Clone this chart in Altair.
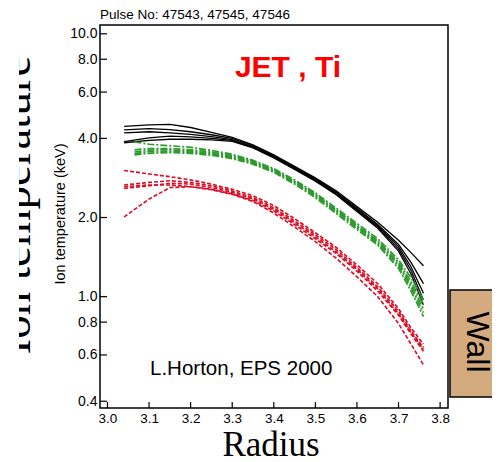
import altair as alt
import pandas as pd

# ---------------- data ----------------
R_BLACK = [3.04, 3.10, 3.15, 3.20, 3.25, 3.30, 3.35, 3.40, 3.45, 3.50, 3.55, 3.60, 3.65, 3.70, 3.73, 3.76]
BLACK = [
    [4.44, 4.50, 4.52, 4.40, 4.22, 4.04, 3.78, 3.46, 3.13, 2.83, 2.53, 2.20, 1.92, 1.64, 1.47, 1.31],
    [4.31, 4.36, 4.32, 4.24, 4.13, 4.00, 3.75, 3.43, 3.11, 2.81, 2.50, 2.17, 1.88, 1.58, 1.35, 1.12],
    [4.20, 4.24, 4.20, 4.14, 4.06, 3.96, 3.72, 3.41, 3.09, 2.79, 2.48, 2.15, 1.86, 1.55, 1.30, 1.03],
    [3.89, 4.02, 4.08, 4.05, 4.00, 3.93, 3.70, 3.39, 3.07, 2.77, 2.46, 2.13, 1.84, 1.52, 1.26, 0.97],
    [3.85, 3.93, 3.97, 3.97, 3.95, 3.90, 3.68, 3.37, 3.05, 2.75, 2.44, 2.11, 1.82, 1.49, 1.22, 0.93],
]
R_GREEN = [3.065, 3.10, 3.15, 3.20, 3.25, 3.30, 3.35, 3.40, 3.45, 3.50, 3.55, 3.60, 3.65, 3.70, 3.73, 3.76]
GREEN = [
    [3.88, 3.80, 3.75, 3.70, 3.60, 3.48, 3.30, 3.07, 2.78, 2.48, 2.17, 1.90, 1.66, 1.38, 1.18, 0.97],
    [3.62, 3.66, 3.66, 3.62, 3.55, 3.44, 3.27, 3.04, 2.75, 2.45, 2.14, 1.87, 1.63, 1.35, 1.14, 0.93],
    [3.55, 3.61, 3.62, 3.58, 3.51, 3.41, 3.25, 3.02, 2.73, 2.43, 2.12, 1.85, 1.61, 1.33, 1.11, 0.90],
    [3.50, 3.56, 3.57, 3.54, 3.48, 3.38, 3.22, 3.00, 2.71, 2.41, 2.10, 1.83, 1.59, 1.31, 1.08, 0.87],
    [3.46, 3.51, 3.53, 3.51, 3.45, 3.35, 3.19, 2.97, 2.68, 2.38, 2.07, 1.80, 1.57, 1.28, 1.05, 0.84],
]
R_RED = [3.04, 3.10, 3.15, 3.20, 3.25, 3.30, 3.35, 3.40, 3.45, 3.50, 3.55, 3.60, 3.65, 3.70, 3.73, 3.76]
RED = [
    [3.02, 2.93, 2.86, 2.78, 2.68, 2.56, 2.42, 2.22, 1.98, 1.75, 1.54, 1.32, 1.12, 0.90, 0.76, 0.66],
    [2.66, 2.72, 2.76, 2.72, 2.64, 2.52, 2.38, 2.18, 1.94, 1.72, 1.51, 1.29, 1.09, 0.88, 0.74, 0.64],
    [2.58, 2.64, 2.70, 2.68, 2.60, 2.49, 2.35, 2.15, 1.91, 1.69, 1.48, 1.27, 1.07, 0.86, 0.73, 0.63],
    [2.01, 2.35, 2.60, 2.62, 2.56, 2.46, 2.32, 2.12, 1.88, 1.66, 1.46, 1.25, 1.05, 0.85, 0.72, 0.62],
    [2.62, 2.66, 2.66, 2.62, 2.55, 2.45, 2.30, 2.08, 1.84, 1.62, 1.40, 1.19, 1.00, 0.79, 0.66, 0.55],
]
X_TICKS = [3.0, 3.1, 3.2, 3.3, 3.4, 3.5, 3.6, 3.7, 3.8]
Y_TICKS = [0.4, 0.6, 0.8, 1.0, 2.0, 4.0, 6.0, 8.0, 10.0]

PULSE = "Pulse No: 47543, 47545, 47546"
TITLE = "JET , Ti"
AUTHOR = "L.Horton, EPS 2000"
YTITLE = "Ion temperature (keV)"
BIG_YTITLE = "Ion temperature"
XTITLE = "Radius"
WALL = "Wall"

# ---------------- build table ----------------
def long_table(rgrid, curves, tag):
    rows = []
    for i, c in enumerate(curves):
        for r, t in zip(rgrid, c):
            rows.append({"R": r, "T": t, "curve": f"{tag}{i}"})
    return pd.DataFrame(rows)

df_black = long_table(R_BLACK, BLACK, "b")
df_green = long_table(R_GREEN, GREEN, "g")
df_red = long_table(R_RED, RED, "r")

W, H = 348, 383
SANS = "Liberation Sans"
SERIF = "Liberation Serif"

xscale = alt.Scale(domain=[2.982, 3.819], nice=False, zero=False)
yscale = alt.Scale(type="log", domain=[0.377, 10.8], nice=False)

xaxis = alt.Axis(values=X_TICKS, format=".1f", ticks=False, domain=False, grid=False,
                 title=None, labelFont=SANS, labelFontSize=13.5, labelColor="black",
                 labelPadding=3, labelOverlap=False)
yaxis = alt.Axis(values=Y_TICKS, format=".1f", ticks=False, domain=False, grid=False,
                 title=None, labelFont=SANS, labelFontSize=14, labelColor="black",
                 labelPadding=3, labelOverlap=False)

X = alt.X("R:Q", scale=xscale, axis=xaxis)
Y = alt.Y("T:Q", scale=yscale, axis=yaxis)

black = alt.Chart(df_black).mark_line(color="black", strokeWidth=1.3).encode(
    x=X, y=Y, detail="curve:N")
green = alt.Chart(df_green).mark_line(color="#2E9A2E", strokeWidth=1.7,
                                      strokeDash=[7, 2, 2, 2]).encode(
    x=X, y=Y, detail="curve:N")
red = alt.Chart(df_red).mark_line(color="#DD0A22", strokeWidth=1.6,
                                  strokeDash=[4, 2]).encode(
    x=X, y=Y, detail="curve:N")

# inward ticks
xt = alt.Chart(pd.DataFrame({"R": X_TICKS})).mark_rule(color="black", strokeWidth=1.2).encode(
    x=X, y=alt.value(H), y2=alt.value(H - 6))
yt = alt.Chart(pd.DataFrame({"T": Y_TICKS})).mark_rule(color="black", strokeWidth=1.2).encode(
    y=Y, x=alt.value(0), x2=alt.value(7))

def label(text, x, y, **kw):
    return alt.Chart(pd.DataFrame({"t": [text]})).mark_text(**kw).encode(
        text="t:N", x=alt.value(x), y=alt.value(y))

one = pd.DataFrame({"a": [0]})
big_title = label(BIG_YTITLE, -70, 180, angle=270, align="center", baseline="alphabetic",
                  font=SERIF, fontSize=47, color="black")
mask = alt.Chart(one).mark_rect(color="white").encode(
    x=alt.value(-100), x2=alt.value(-81), y=alt.value(-20), y2=alt.value(440))

pulse = label(PULSE, 0, -6, align="left", baseline="alphabetic", font=SANS,
              fontSize=13.5, color="black")
jet = label(TITLE, 188, 52, align="center", baseline="alphabetic", font=SANS,
            fontSize=30, fontWeight="bold", color="#FF0000")
author = label(AUTHOR, 50, 350, align="left", baseline="alphabetic", font=SANS,
               fontSize=20.5, color="black")
ytitle = label(YTITLE, -39, 189, angle=270, align="center", baseline="middle",
               font=SANS, fontSize=14.5, color="black")
xtitle = label(XTITLE, 171, 431, align="center", baseline="alphabetic", font=SERIF,
               fontSize=35, color="black")

wall_box = alt.Chart(one).mark_rect(fill="#D3AB7E", stroke="black", strokeWidth=1.5).encode(
    x=alt.value(350), x2=alt.value(420), y=alt.value(265), y2=alt.value(372))
wall = label(WALL, 377, 317, angle=90, align="center", baseline="middle", font=SANS,
             fontSize=32, color="black")

chart = alt.layer(
    black, green, red, xt, yt, big_title, mask, pulse, jet, author, ytitle, xtitle,
    wall_box, wall
).properties(
    width=W, height=H,
    autosize=alt.AutoSizeParams(type="none"),
    padding={"left": 92, "top": 17, "right": 44, "bottom": 54},
    background="white",
).configure_view(stroke="black", strokeWidth=1.5)

chart.save("out.html", embed_options={"renderer": "svg", "actions": False})
